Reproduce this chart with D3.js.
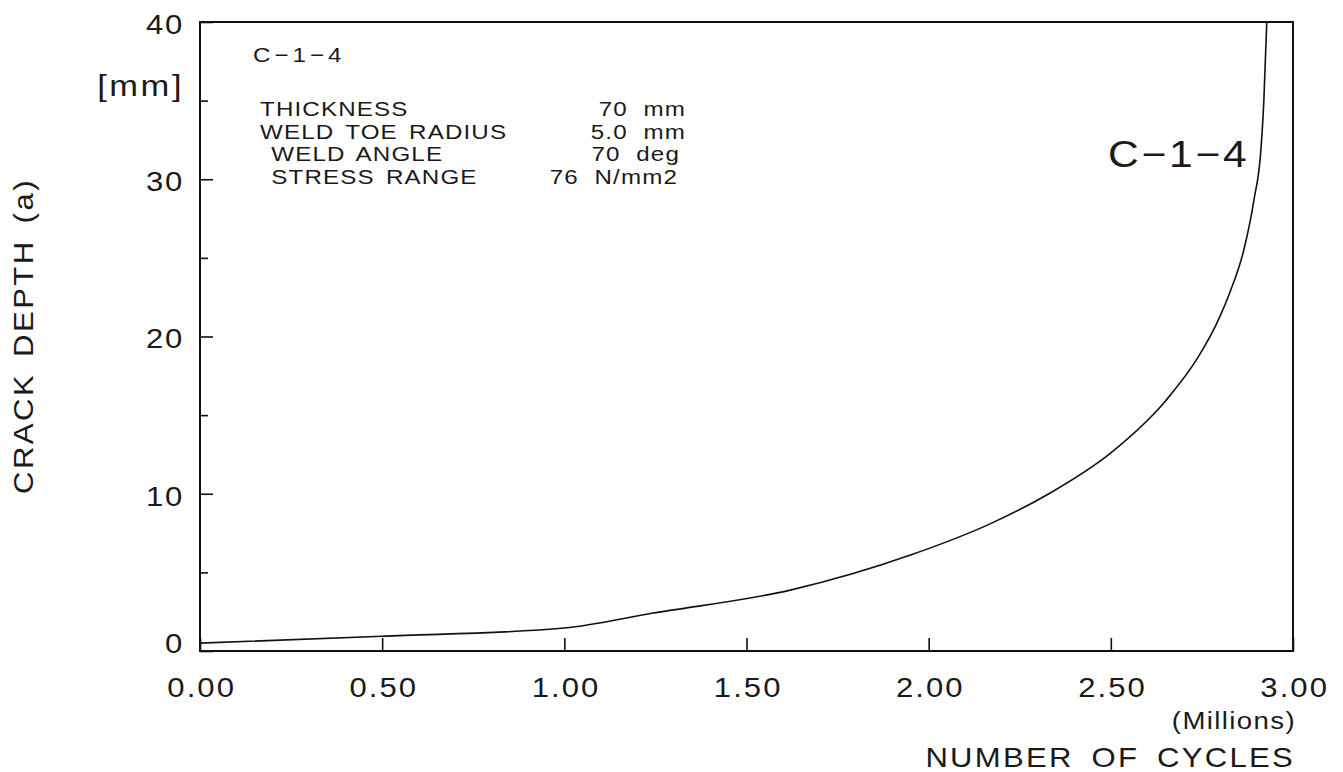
<!DOCTYPE html>
<html>
<head>
<meta charset="utf-8">
<script src="https://cdn.jsdelivr.net/npm/d3@7"></script>
<style>
  html, body { margin: 0; padding: 0; background: #fff; }
  svg { display: block; }
  text { font-family: "Liberation Sans", Arial, sans-serif; fill: #1a1a1a; }
</style>
</head>
<body>
<svg id="chart" width="1343" height="772"></svg>
<script>
// Crack growth curve for specimen C-1-4 (cycles in millions, depth in mm)
const cycles = [0, 0.5, 1.0, 1.24, 1.62, 1.95, 2.17, 2.33, 2.5, 2.65, 2.74, 2.79, 2.83, 2.865, 2.893, 2.912, 2.92, 2.928];
const depth  = [0.5, 0.94, 1.46, 2.4, 3.87, 6.1, 8.1, 10.0, 12.6, 15.9, 18.7, 20.8, 23.0, 25.5, 28.7, 31.9, 35, 40];

const xTicks = [0, 0.5, 1.0, 1.5, 2.0, 2.5, 3.0];
const yMajorTicks = [0, 10, 20, 30, 40];
const yMinorTicks = [5, 15, 25, 35];

const infoLabels = ["THICKNESS", "WELD TOE RADIUS", " WELD ANGLE", " STRESS RANGE"];
const infoValues = ["70  mm", "5.0  mm", "70  deg", "76  N/mm2"];

const margin = { left: 200, right: 50, top: 22, bottom: 121 };
const W = 1343, H = 772;
const WIDE = 1.15;   // horizontal stretch for the plotter-style lettering

const svg = d3.select("#chart");

const x = d3.scaleLinear().domain([0, 3]).range([margin.left, W - margin.right]);
const y = d3.scaleLinear().domain([0, 40]).range([H - margin.bottom, margin.top]);

// helper for stretched text labels
function label(g, tx, ty, str, size, ls, anchor, extra) {
  return g.append("text")
    .attr("transform", `translate(${tx},${ty})${extra || ""} scale(${WIDE},1)`)
    .attr("text-anchor", anchor || "start")
    .attr("font-size", size)
    .style("letter-spacing", ls + "px")
    .style("white-space", "pre")
    .text(str);
}

// frame
svg.append("rect")
  .attr("x", x(0)).attr("y", y(40))
  .attr("width", x(3) - x(0)).attr("height", y(0) - y(40))
  .attr("fill", "none").attr("stroke", "#111").attr("stroke-width", 2);

// x axis: inward ticks, labels below
const xAxis = d3.axisBottom(x)
  .tickValues(xTicks)
  .tickSize(-13)
  .tickPadding(27)
  .tickFormat(d3.format(".2f"));
const gx = svg.append("g").attr("transform", `translate(0,${y(0)})`).call(xAxis);
gx.select(".domain").remove();
gx.selectAll(".tick line").attr("stroke", "#111").attr("stroke-width", 1.6);
gx.selectAll(".tick text")
  .attr("font-size", 27).attr("fill", "#1a1a1a")
  .attr("transform", `scale(${WIDE},1)`)
  .attr("dx", 1)
  .style("font-family", "'Liberation Sans', Arial, sans-serif")
  .style("letter-spacing", "1.8px");

// y axis: major ticks labelled, minor ticks shorter
const yAxis = d3.axisLeft(y)
  .tickValues(yMajorTicks)
  .tickSize(-13)
  .tickPadding(14)
  .tickFormat(d3.format("d"));
const gy = svg.append("g").attr("transform", `translate(${x(0)},0)`).call(yAxis);
gy.select(".domain").remove();
gy.selectAll(".tick line").attr("stroke", "#111").attr("stroke-width", 1.6);
gy.selectAll(".tick text")
  .attr("font-size", 27).attr("fill", "#1a1a1a")
  .attr("transform", `scale(${WIDE},1)`)
  .attr("dy", d => d === 0 ? "0.05em" : "0.42em")
  .style("font-family", "'Liberation Sans', Arial, sans-serif")
  .style("letter-spacing", "1.5px");

const yMinor = d3.axisLeft(y).tickValues(yMinorTicks).tickSize(-8).tickFormat("");
const gym = svg.append("g").attr("transform", `translate(${x(0)},0)`).call(yMinor);
gym.select(".domain").remove();
gym.selectAll(".tick line").attr("stroke", "#111").attr("stroke-width", 1.6);

// curve
const pts = cycles.map((c, i) => [c, depth[i]]);
svg.append("path")
  .datum(pts)
  .attr("fill", "none")
  .attr("stroke", "#111")
  .attr("stroke-width", 1.6)
  .attr("d", d3.line().x(d => x(d[0])).y(d => y(d[1])).curve(d3.curveMonotoneX));

// unit label
label(svg, 184, 96, "[mm]", 30, 2.2, "end");

// axis titles
label(svg, 33, 336, "CRACK DEPTH (a)", 27, 2.2, "middle", " rotate(-90)").style("word-spacing", "4px");
label(svg, 1296, 729, "(Millions)", 24, 1.2, "end");
label(svg, 1295, 767, "NUMBER OF CYCLES", 27, 2, "end").style("word-spacing", "6px");

// specimen id, top-left
label(svg, 253, 62, "C\u22121\u22124", 21, 3.5, "start");

// specimen parameters
const infoTop = 116, infoStep = 22.5;
infoLabels.forEach((s, i) => label(svg, 260, infoTop + i * infoStep, s, 21, 1, "start").style("word-spacing", "3px"));

const valueRight = [686, 686, 680, 678];
infoValues.forEach((s, i) => label(svg, valueRight[i], infoTop + i * infoStep, s, 21, 1, "end"));

// curve label
label(svg, 1108, 167, "C\u22121\u22124", 37, 2.4, "start");
</script>
</body>
</html>
